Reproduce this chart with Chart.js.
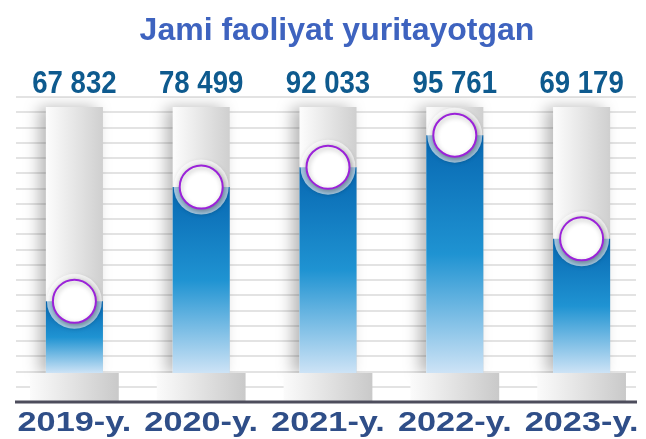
<!DOCTYPE html>
<html>
<head>
<meta charset="utf-8">
<title>Jami faoliyat yuritayotgan</title>
<script src="https://cdn.jsdelivr.net/npm/chart.js@4.4.1/dist/chart.umd.min.js"></script>
<style>
  html, body { margin: 0; padding: 0; background: #fff; }
  #wrap { width: 646px; height: 439px; }
</style>
</head>
<body>
<div id="wrap"><canvas id="chart" width="646" height="439"></canvas></div>
<script>
// =============================================================================
// DATA
// =============================================================================

const titleText = 'Jami faoliyat yuritayotgan';
const years = ['2019-y.', '2020-y.', '2021-y.', '2022-y.', '2023-y.'];
const totals = [67832, 78499, 92033, 95761, 69179];
// Height of the blue fill in each tube (0 = base line)
const fillLevels = [6.6, 14.1, 15.4, 17.5, 10.7];

// Tube geometry, in grid units
const GRID_MAX = 20;
const BASE_TOP = 1.9;
const TUBE_TOP = 19.35;

const COLORS = {
  title: '#3e63bf',
  value: '#0e5a8e',
  year: '#2f4e88',
  grid: '#e3e3e3',
  axis: '#4d4d5c',
  ring: '#9b22d9'
};

// =============================================================================
// HELPERS
// =============================================================================

/** "67832" -> "67 832" */
function fmt(v) {
  return String(v).replace(/\B(?=(\d{3})+(?!\d))/g, ' ');
}

/** Left-to-right gradient across one bar */
function hGrad(c, pct, from, to) {
  const chart = c.chart;
  const xs = chart.scales.x;
  if (!chart.chartArea || !xs || c.dataIndex === undefined) return to;
  const cx = xs.getPixelForValue(c.dataIndex);
  const half = xs.width / years.length * pct / 2;
  const g = chart.ctx.createLinearGradient(cx - half, 0, cx + half, 0);
  g.addColorStop(0, from);
  g.addColorStop(1, to);
  return g;
}

/** Top-to-bottom gradient of the blue fill */
function fillGrad(c) {
  const chart = c.chart;
  const ys = chart.scales.y;
  if (!chart.chartArea || !ys || c.dataIndex === undefined) return '#1f93d2';
  const top = ys.getPixelForValue(fillLevels[c.dataIndex]);
  const bottom = ys.getPixelForValue(BASE_TOP);
  const g = chart.ctx.createLinearGradient(0, top, 0, bottom);
  g.addColorStop(0, '#0767b1');
  g.addColorStop(0.5, '#1f93d2');
  g.addColorStop(1, '#cde3f6');
  return g;
}

/** Text squeezed or widened horizontally */
function drawText(ctx, text, x, y, sx, align) {
  ctx.save();
  ctx.translate(x, y);
  ctx.scale(sx, 1);
  ctx.textAlign = align;
  ctx.fillText(text, 0, 0);
  ctx.restore();
}

// =============================================================================
// DECORATION PLUGIN (grid, shadows, axis line, texts)
// =============================================================================

const decor = {
  id: 'decor',
  beforeDatasetsDraw(chart) {
    const { ctx, chartArea, scales: { y } } = chart;
    ctx.save();
    ctx.strokeStyle = COLORS.grid;
    ctx.lineWidth = 2;
    for (let v = 1; v <= GRID_MAX; v++) {
      const py = Math.round(y.getPixelForValue(v));
      ctx.beginPath();
      ctx.moveTo(chartArea.left + 5, py);
      ctx.lineTo(chartArea.right - 9, py);
      ctx.stroke();
    }
    ctx.restore();
  },
  beforeDatasetDraw(chart, args) {
    const s = chart.data.datasets[args.index].shadow;
    if (!s) return;
    const ctx = chart.ctx;
    ctx.shadowColor = s.color;
    ctx.shadowBlur = s.blur;
    ctx.shadowOffsetX = s.x;
    ctx.shadowOffsetY = s.y;
  },
  afterDatasetDraw(chart) {
    const ctx = chart.ctx;
    ctx.shadowColor = 'transparent';
    ctx.shadowBlur = 0;
    ctx.shadowOffsetX = 0;
    ctx.shadowOffsetY = 0;
  },
  afterDatasetsDraw(chart) {
    const { ctx, chartArea, scales: { x, y } } = chart;

    // Base line
    ctx.save();
    ctx.strokeStyle = COLORS.axis;
    ctx.lineWidth = 3;
    const py = y.getPixelForValue(0);
    ctx.beginPath();
    ctx.moveTo(chartArea.left + 4, py);
    ctx.lineTo(chartArea.right - 8, py);
    ctx.stroke();

    // Title
    ctx.fillStyle = COLORS.title;
    ctx.font = 'bold 32px "Liberation Sans", Arial, sans-serif';
    ctx.textBaseline = 'alphabetic';
    drawText(ctx, titleText, 337, 40, 1, 'center');

    // Values above the tubes
    ctx.fillStyle = COLORS.value;
    ctx.font = 'bold 31px "Liberation Sans", Arial, sans-serif';
    totals.forEach((v, i) => {
      drawText(ctx, fmt(v), x.getPixelForValue(i), 93, 0.89, 'center');
    });

    // Year labels
    ctx.fillStyle = COLORS.year;
    ctx.font = 'bold 27px "Liberation Sans", Arial, sans-serif';
    years.forEach((t, i) => {
      drawText(ctx, t, x.getPixelForValue(i), 431, 1.27, 'center');
    });
    ctx.restore();
  }
};

// =============================================================================
// CHART
// =============================================================================

new Chart(document.getElementById('chart').getContext('2d'), {
  type: 'bar',
  data: {
    labels: years,
    datasets: [
      {
        type: 'line',
        label: 'marker',
        data: fillLevels,
        showLine: false,
        pointRadius: 21.5,
        pointHoverRadius: 21.5,
        pointBackgroundColor: '#ffffff',
        pointBorderColor: COLORS.ring,
        pointBorderWidth: 2,
        shadow: { color: 'rgba(0,0,0,0.3)', blur: 5, x: 1, y: 2 },
        order: 1
      },
      {
        type: 'line',
        label: 'halo',
        data: fillLevels,
        showLine: false,
        pointRadius: 27.5,
        pointHoverRadius: 27.5,
        pointBackgroundColor: 'rgba(255,255,255,0.62)',
        pointBorderColor: 'transparent',
        pointBorderWidth: 0,
        shadow: { color: 'rgba(0,0,0,0.15)', blur: 4, x: 0, y: 1 },
        order: 2
      },
      {
        label: 'fill',
        data: fillLevels.map(v => [BASE_TOP, v]),
        backgroundColor: fillGrad,
        borderWidth: 0,
        barPercentage: 0.45,
        categoryPercentage: 1,
        grouped: false,
        order: 3
      },
      {
        label: 'base',
        data: years.map(() => [0, BASE_TOP]),
        backgroundColor: c => hGrad(c, 0.70, '#fbfbfb', '#c9c9c9'),
        borderWidth: 0,
        barPercentage: 0.70,
        categoryPercentage: 1,
        grouped: false,
        order: 4
      },
      {
        label: 'tube',
        data: years.map(() => [BASE_TOP, TUBE_TOP]),
        backgroundColor: c => hGrad(c, 0.45, '#fdfdfd', '#cfcfcf'),
        borderWidth: 0,
        barPercentage: 0.45,
        categoryPercentage: 1,
        grouped: false,
        shadow: { color: 'rgba(0,0,0,0.28)', blur: 14, x: -7, y: 0 },
        order: 5
      }
    ]
  },
  options: {
    responsive: false,
    animation: false,
    events: [],
    layout: { autoPadding: false, padding: { top: 97, bottom: 37, left: 11, right: 1 } },
    plugins: {
      legend: { display: false },
      tooltip: { enabled: false },
      title: { display: false }
    },
    scales: {
      x: { display: false, offset: true, grid: { display: false } },
      y: { display: false, min: 0, max: GRID_MAX, grid: { display: false } }
    }
  },
  plugins: [decor]
});
</script>
</body>
</html>
